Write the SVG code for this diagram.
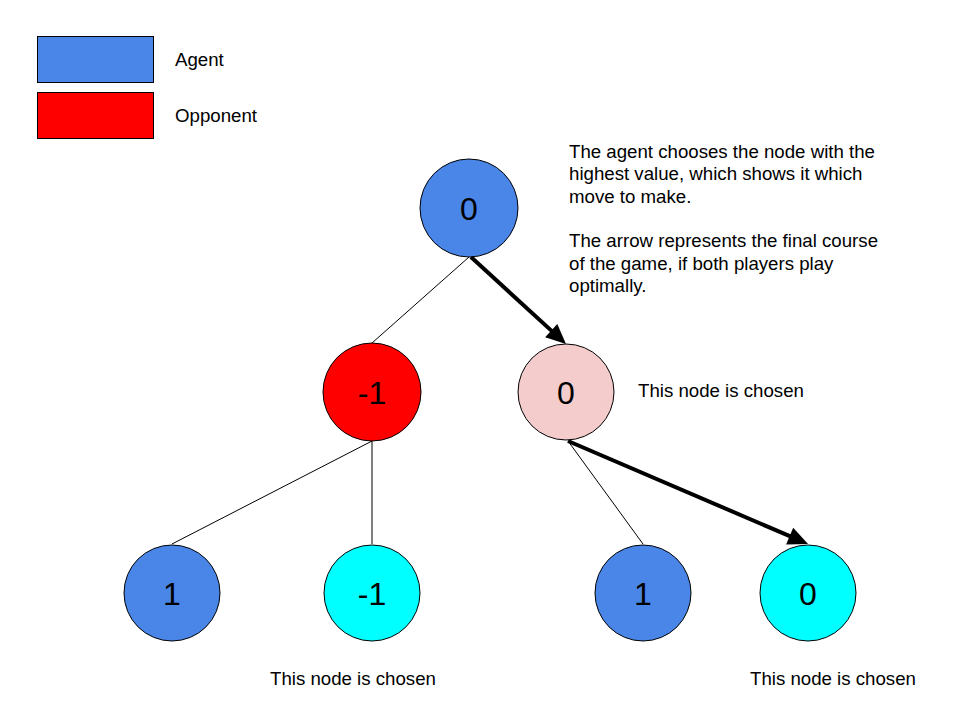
<svg xmlns="http://www.w3.org/2000/svg" width="960" height="720" viewBox="0 0 960 720">
<style>
text{font-family:"Liberation Sans",Arial,sans-serif;fill:#000}
.lbl{font-size:18.67px}
.num{font-size:32px;text-anchor:middle}
.node{stroke:#000;stroke-width:1}
.agent{fill:#4a86e8}
.opp{fill:#ff0000}
.pink{fill:#f4cccc}
.cyan{fill:#00ffff}
.thin{stroke:#000;stroke-width:1;fill:none}
.thick{stroke:#000;stroke-width:4;fill:none;marker-end:url(#ah)}
</style>
<defs>
<marker id="ah" markerUnits="userSpaceOnUse" markerWidth="20" markerHeight="18" refX="2" refY="9" orient="auto" overflow="visible">
<path d="M0,0 L20,9 L0,18 z" fill="#000"/>
</marker>
</defs>
<rect width="960" height="720" fill="#fff"/>
<g id="legend">
<rect x="37.5" y="36.5" width="116" height="46" class="node agent"/>
<text x="175" y="66" class="lbl">Agent</text>
<rect x="37.5" y="92.5" width="116" height="46" class="node opp"/>
<text x="175" y="122" class="lbl">Opponent</text>
</g>
<g id="connectors">
<line x1="469" y1="257" x2="372" y2="343" class="thin"/>
<line x1="372" y1="441" x2="172" y2="544" class="thin"/>
<line x1="372" y1="441" x2="372" y2="544" class="thin"/>
<line x1="568" y1="441" x2="643" y2="544" class="thin"/>
<line x1="471" y1="257" x2="552.7" y2="331.9" class="thick"/>
<line x1="568" y1="441" x2="791.5" y2="536.9" class="thick"/>
</g>
<g id="root"><circle cx="469" cy="208" r="49" class="node agent"/><text x="469" y="220" class="num">0</text></g>
<g id="opp-left"><circle cx="372" cy="392" r="49" class="node opp"/><text x="372" y="404" class="num">-1</text></g>
<g id="opp-right"><circle cx="566" cy="392" r="48" class="node pink"/><text x="566" y="404" class="num">0</text></g>
<g id="leaf1"><circle cx="172" cy="593" r="48" class="node agent"/><text x="172" y="605" class="num">1</text></g>
<g id="leaf2"><circle cx="372" cy="593" r="48" class="node cyan"/><text x="372" y="605" class="num">-1</text></g>
<g id="leaf3"><circle cx="643" cy="593" r="48" class="node agent"/><text x="643" y="605" class="num">1</text></g>
<g id="leaf4"><circle cx="808" cy="593" r="48" class="node cyan"/><text x="808" y="605" class="num">0</text></g>
<g id="notes">
<text class="lbl" x="569" y="158">The agent chooses the node with the</text>
<text class="lbl" x="569" y="180">highest value, which shows it which</text>
<text class="lbl" x="569" y="203">move to make.</text>
<text class="lbl" x="569" y="247">The arrow represents the final course</text>
<text class="lbl" x="569" y="270">of the game, if both players play</text>
<text class="lbl" x="569" y="292">optimally.</text>
<text class="lbl" x="638" y="397">This node is chosen</text>
<text class="lbl" x="270" y="685">This node is chosen</text>
<text class="lbl" x="750" y="685">This node is chosen</text>
</g>
</svg>
